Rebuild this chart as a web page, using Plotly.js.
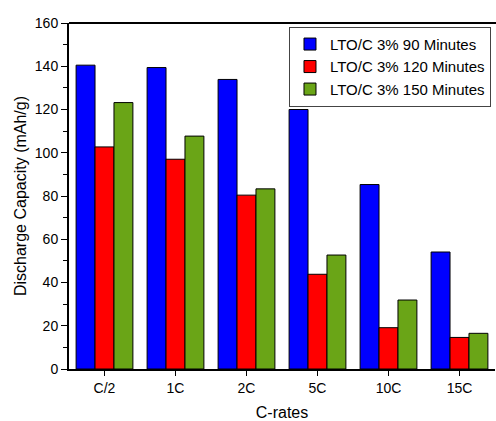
<!DOCTYPE html>
<html>
<head>
<meta charset="utf-8">
<script src="https://cdn.plot.ly/plotly-3.0.1.min.js"></script>
<style>html,body{margin:0;padding:0;background:#fff;}#chart{width:496px;height:421px;}</style>
</head>
<body>
<div id="chart"></div>
<script>
const categories = ["C/2", "1C", "2C", "5C", "10C", "15C"];
const seriesNames = ["LTO/C 3% 90 Minutes", "LTO/C 3% 120 Minutes", "LTO/C 3% 150 Minutes"];
const min90 = [140.5, 139.4, 133.9, 120.0, 85.3, 54.1];
const min120 = [102.7, 97.0, 80.4, 43.8, 19.1, 14.6];
const min150 = [123.2, 107.7, 83.3, 52.7, 31.9, 16.5];
const colors = ["#0000FF", "#FF0000", "#6AA517"];
const yTicks = [0, 20, 40, 60, 80, 100, 120, 140, 160];

const series = [min90, min120, min150];
const traces = series.map((vals, i) => ({
  type: "bar",
  x: categories,
  y: vals,
  name: seriesNames[i],
  marker: {color: colors[i], line: {color: "#000", width: 1}}
}));

const font = "Liberation Sans, Arial, sans-serif";
const layout = {
  width: 496, height: 421,
  margin: {l: 69, r: 1, t: 23, b: 52},
  paper_bgcolor: "#fff", plot_bgcolor: "#fff",
  barmode: "group", bargap: 0.2, bargroupgap: 0,
  font: {family: font, color: "#000", size: 14},
  showlegend: true,
  legend: {
    x: 0.9906, xanchor: "right", y: 0.989, yanchor: "top",
    bordercolor: "#444", borderwidth: 1, bgcolor: "#fff",
    font: {family: font, size: 15, color: "#000"},
    tracegroupgap: 0, itemwidth: 30
  },
  xaxis: {
    type: "category", range: [-0.5, 5.5],
    showline: true, linecolor: "#000", linewidth: 2,
    mirror: false, showgrid: false, zeroline: false,
    ticks: "outside", ticklen: 5, tickwidth: 1, tickcolor: "#000",
    minor: {ticks: "outside", ticklen: 4, tickwidth: 1, tickcolor: "#000"},
    tickfont: {family: font, size: 14},
    title: {text: "C-rates", font: {family: font, size: 16}, standoff: 13}
  },
  yaxis: {
    range: [0, 160], tickvals: yTicks,
    showline: true, linecolor: "#000", linewidth: 2,
    showgrid: false, zeroline: false,
    ticks: "outside", ticklen: 6, tickwidth: 1, tickcolor: "#000",
    minor: {dtick: 10, ticks: "outside", ticklen: 4, tickwidth: 1, tickcolor: "#000"},
    tickfont: {family: font, size: 14},
    title: {text: "Discharge Capacity (mAh/g)", font: {family: font, size: 16}, standoff: 4}
  },
  shapes: [{type: "line", xref: "paper", yref: "paper", x0: 0, x1: 1.01, y0: 1, y1: 1, line: {color: "#000", width: 2}}]
};
Plotly.newPlot("chart", traces, layout, {displayModeBar: false, staticPlot: true});
</script>
</body>
</html>
